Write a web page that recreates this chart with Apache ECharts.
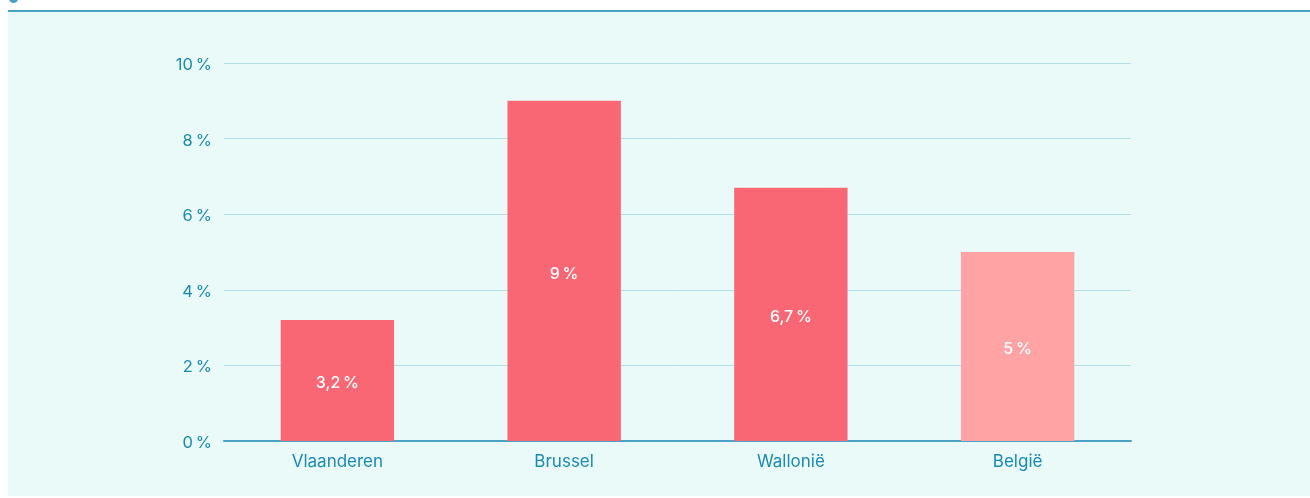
<!DOCTYPE html>
<html>
<head>
    <meta charset="utf-8">
    <script src="https://cdn.jsdelivr.net/npm/echarts@6/dist/echarts.min.js"></script>
    <style>
        html, body { margin: 0; padding: 0; background: #ffffff; }
        #panel { position: absolute; left: 8px; top: 10px; width: 1302px; height: 486px;
                 background: #eafaf9; border-top: 2px solid #4aa3c4; box-sizing: border-box; }
        #dot { position: absolute; left: 9px; top: -6px; width: 9px; height: 9px; border-radius: 50%; background: #4aa3c4; }
        #main { position: absolute; left: 0; top: 0; width: 1310px; height: 498px; }
    </style>
</head>
<body>
<div id="dot"></div>
<div id="panel"></div>
<div id="main"></div>
<script type="text/javascript">
    // regio's en aandeel (%)
    var regions = ['Vlaanderen', 'Brussel', 'Wallonië', 'België'];
    var shares = [3.2, 9, 6.7, 5];
    var barColors = ['#fa6774', '#fa6774', '#fa6774', '#ffa3a4'];

    function pct(v) {
        return String(v).replace('.', ',') + '\u202F%';
    }

    var myChart = echarts.init(document.getElementById('main'));

    var option = {
        animation: false,
        grid: { left: 224, right: 179, top: 63, bottom: 57 },
        xAxis: {
            type: 'category',
            data: regions,
            axisLine: { lineStyle: { color: '#4aa3c4', width: 2 } },
            axisTick: { show: false },
            axisLabel: { color: '#1a8ab0', fontSize: 17, fontFamily: 'Inter', margin: 12 }
        },
        yAxis: {
            type: 'value',
            min: 0,
            max: 10,
            interval: 2,
            axisLine: { show: false },
            axisTick: { show: false },
            splitLine: { lineStyle: { color: '#b4dde6', width: 1 } },
            axisLabel: {
                color: '#1a8ab0', fontSize: 16.5, fontFamily: 'Inter', margin: 12,
                verticalAlign: 'top', lineHeight: 20, padding: [-8, 0, 0, 0],
                formatter: function (v) { return pct(v); }
            }
        },
        series: {
            type: 'bar',
            barWidth: '50%',
            data: shares.map(function (v, i) {
                return { value: v, itemStyle: { color: barColors[i] } };
            }),
            label: {
                show: true,
                position: 'inside',
                offset: [0, 3],
                color: '#ffffff',
                fontSize: 16,
                fontWeight: 500,
                fontFamily: 'Inter',
                formatter: function (p) { return pct(p.value); }
            }
        }
    };
    myChart.setOption(option);
</script>
</body>
</html>
